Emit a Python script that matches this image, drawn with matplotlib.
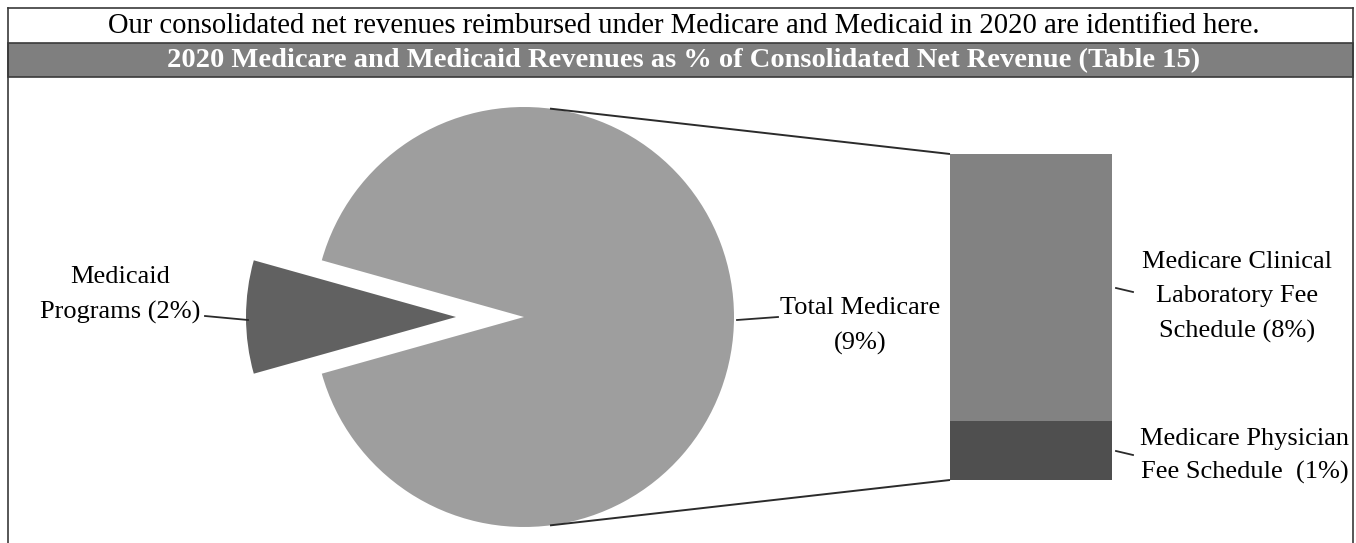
import matplotlib
matplotlib.use("Agg")
import matplotlib.pyplot as plt
import numpy as np

plt.rcParams['font.family'] = ['Liberation Serif', 'DejaVu Serif']

H = 543  # image height in px, used to flip y

title_text = "Our consolidated net revenues reimbursed under Medicare and Medicaid in 2020 are identified here."
banner_text = "2020 Medicare and Medicaid Revenues as % of Consolidated Net Revenue (Table 15)"

# pie: Medicaid slice, Total Medicare slice (shares as drawn in the picture)
pie_labels = ["Medicaid\nPrograms (2%)", "Total Medicare\n(9%)"]
pie_shares = [0.087, 0.913]
pie_colors = ["#616161", "#9e9e9e"]

# bar: bottom segment first
bar_labels = ["Medicare Physician\nFee Schedule  (1%)", "Medicare Clinical\nLaboratory Fee\nSchedule (8%)"]
bar_shares = [0.18, 0.82]
bar_colors = ["#4f4f4f", "#828282"]

fig = plt.figure(figsize=(13.56, 5.43), dpi=100)
ax = fig.add_axes([0, 0, 1, 1])

def Y(y):
    return H - y

# pie (explode is in data units here)
cx, cy, r = 524, 317, 210
ang = pie_shares[0] * 360
ax.pie(pie_shares, colors=pie_colors, startangle=180 - ang / 2, counterclock=True,
       explode=[68, 0], center=(cx, Y(cy)), radius=r,
       wedgeprops=dict(linewidth=0))

# bar
bx, bw, btop, bbot = 1031, 162, 154, 480
bh = bbot - btop
bottom = Y(bbot)
for s, c in zip(bar_shares, bar_colors):
    ax.bar(bx, s * bh, width=bw, bottom=bottom, color=c, linewidth=0)
    bottom += s * bh

# connector lines from pie to bar corners
th = np.degrees(np.arccos(26 / r))
lc = "#2b2b2b"
for sgn, yb in [(1, btop), (-1, bbot)]:
    px = cx + r * np.cos(np.radians(th))
    py = Y(cy) + sgn * r * np.sin(np.radians(th))
    ax.plot([px, bx - bw / 2], [py, Y(yb)], color=lc, lw=1.4, solid_capstyle='butt')

# leader lines
leaders = [((205, 316), (248, 320)), ((737, 320), (778, 317)),
           ((1116, 288), (1133, 292)), ((1116, 451), (1133, 455))]
for (x0, y0), (x1, y1) in leaders:
    ax.plot([x0, x1], [Y(y0), Y(y1)], color=lc, lw=1.3)

fs = 19
ls = 1.7
ax.text(120, Y(295), pie_labels[0], ha='center', va='center', fontsize=fs, linespacing=ls)
ax.text(860, Y(326), pie_labels[1], ha='center', va='center', fontsize=fs, linespacing=ls)
ax.text(1237, Y(297), bar_labels[1], ha='center', va='center', fontsize=fs, linespacing=ls)
ax.text(1245, Y(456), bar_labels[0], ha='center', va='center', fontsize=fs, linespacing=1.62)

# frame, title row and banner
fc = "#3a3a3a"
ax.add_patch(plt.Rectangle((8, Y(77)), 1345, 34, facecolor="#7f7f7f", edgecolor=fc, lw=1.2))
ax.plot([8, 8], [Y(8), -5], color=fc, lw=1.2)
ax.plot([1353, 1353], [Y(8), -5], color=fc, lw=1.2)
ax.plot([8, 1353], [Y(8), Y(8)], color=fc, lw=1.2)
ax.text(684, Y(26), title_text, ha='center', va='center', fontsize=20.6)
ax.text(684, Y(61), banner_text, ha='center', va='center', fontsize=20.5, fontweight='bold', color='white')

ax.set_xlim(0, 1356)
ax.set_ylim(0, H)
ax.set_aspect('equal')
ax.axis('off')

fig.savefig("out.png", dpi=100)
